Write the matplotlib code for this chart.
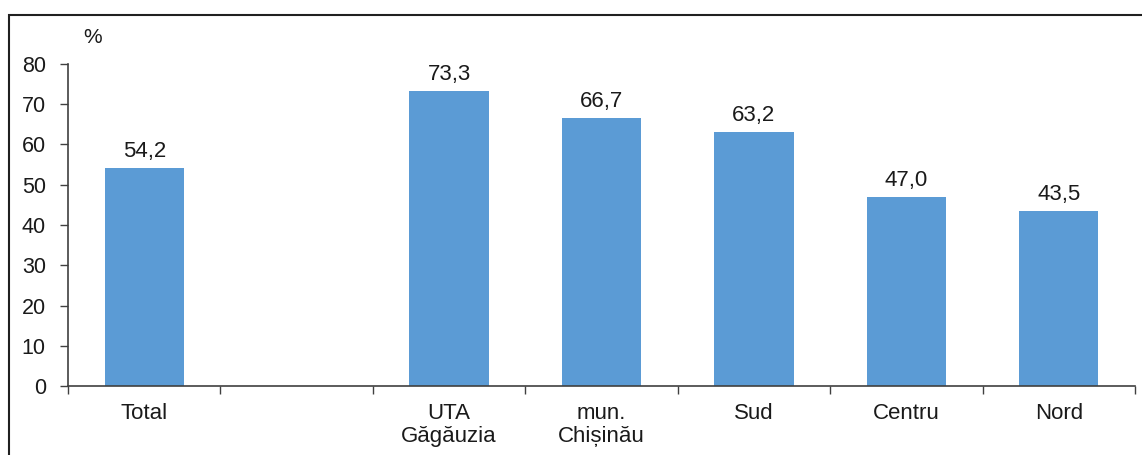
import matplotlib.pyplot as plt
import numpy as np
from matplotlib.patches import Rectangle

plt.rcParams['font.family'] = ['Liberation Sans', 'DejaVu Sans']

categories = ['Total', '', 'UTA\nGăgăuzia', 'mun.\nChișinău', 'Sud', 'Centru', 'Nord']
values = [54.2, np.nan, 73.3, 66.7, 63.2, 47.0, 43.5]
labels = ['54,2', '', '73,3', '66,7', '63,2', '47,0', '43,5']

fig = plt.figure(figsize=(11.42, 4.55), dpi=100)
ax = fig.add_axes([68/1142, 1-386/455, 1067/1142, 322/455])

x = np.arange(len(categories))
bars = ax.bar(x, values, width=0.52, color='#5B9BD5', zorder=2)
for xi, v, lab in zip(x, values, labels):
    if lab:
        ax.text(xi, v + 1.4, lab, ha='center', va='bottom', fontsize=16, color='#1a1a1a')

ax.set_xlim(-0.5, len(categories) - 0.5)
ax.set_ylim(0, 80)
ax.set_yticks(range(0, 81, 10))
ax.set_xticks(x)
ax.set_xticklabels(categories, fontsize=16, color='#1a1a1a', linespacing=1.15)
ax.set_xticks(np.arange(-0.5, len(categories)), minor=True)
ax.tick_params(axis='x', which='major', length=0, pad=12)
ax.tick_params(axis='x', which='minor', length=6, width=1, color='#404040', direction='out')
ax.tick_params(axis='y', length=6, width=1, color='#404040', labelsize=15.5,
               labelcolor='#1a1a1a', pad=10)

for s in ['top', 'right']:
    ax.spines[s].set_visible(False)
for s in ['left', 'bottom']:
    ax.spines[s].set_color('#404040')
    ax.spines[s].set_linewidth(1.2)

ax.text(-0.4, 86.5, '%', fontsize=15, color='#1a1a1a', ha='left', va='center', clip_on=False)

# outer frame
fig.patches.append(Rectangle((9/1142, -0.1), 1.2, 1 - 15/455 + 0.1,
                             transform=fig.transFigure, fill=False,
                             edgecolor='#202020', linewidth=1.5))

fig.savefig('out.png', dpi=100)
